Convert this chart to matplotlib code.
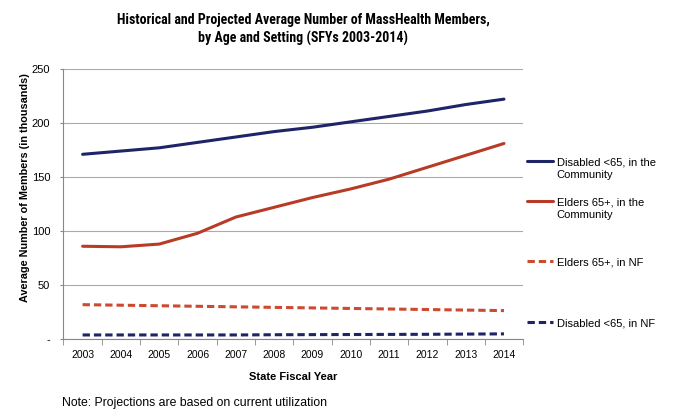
import matplotlib
matplotlib.use("Agg")
import matplotlib.pyplot as plt
import numpy as np

plt.rcParams['font.family'] = ['Liberation Sans', 'DejaVu Sans']

# data (thousands of members)
years = ['2003', '2004', '2005', '2006', '2007', '2008', '2009', '2010',
         '2011', '2012', '2013', '2014']
disabled_community = [171, 174, 177, 182, 187, 192, 196, 201, 206, 211, 217, 222]
elders_community = [86, 85.5, 88, 98, 113, 122, 131, 139, 148, 159, 170, 181]
elders_nf = [32, 31.5, 31, 30.5, 30, 29.5, 29, 28.5, 28, 27.5, 27, 26.5]
disabled_nf = [4, 4, 4, 4, 4, 4.2, 4.3, 4.4, 4.5, 4.6, 4.8, 5]

labels = ['Disabled <65, in the', 'Elders 65+, in the',
          'Elders 65+, in NF', 'Disabled <65, in NF']
label_second_line = ['Community', 'Community', '', '']

navy = '#1f2466'
red = '#b83b26'
red_dash = '#cc4a30'

fig = plt.figure(figsize=(6.75, 4.11), dpi=100)
ax = fig.add_axes([0.094, 0.1745, 0.681, 0.658])

x = np.arange(len(years))
l1, = ax.plot(x, disabled_community, color=navy, lw=2.2, solid_capstyle='round')
l2, = ax.plot(x, elders_community, color=red, lw=2.2, solid_capstyle='round')
l3, = ax.plot(x, elders_nf, color=red_dash, lw=2.2, ls=(0, (2.4, 1.3)))
l4, = ax.plot(x, disabled_nf, color=navy, lw=2.2, ls=(0, (2.4, 1.3)))

ax.set_xlim(-0.5, len(years) - 0.5)
ax.set_ylim(0, 250)
ax.set_yticks([0, 50, 100, 150, 200, 250])
ax.set_yticklabels(['-', '50', '100', '150', '200', '250'])
ax.set_xticks(x)
ax.set_xticklabels(years)
ax.set_xticks(np.arange(-0.5, len(years)), minor=True)
ax.tick_params(axis='x', which='major', length=0, pad=8, labelsize=7.5)
ax.tick_params(axis='x', which='minor', length=4, color='#888888')
ax.tick_params(axis='y', length=2.5, pad=7, color='#888888', labelsize=8)

ax.grid(axis='y', color='#aaaaaa', lw=0.8)
ax.set_axisbelow(True)
for s in ['top', 'right']:
    ax.spines[s].set_visible(False)
for s in ['left', 'bottom']:
    ax.spines[s].set_color('#888888')

ax.set_xlabel('State Fiscal Year', fontsize=8, fontweight='bold', labelpad=8)
ax.set_ylabel('Average Number of Members (in thousands)', fontsize=7.8,
              fontweight='bold')
ax.yaxis.set_label_coords(-0.073, 0.56)

fig.text(0.449, 0.968, 'Historical and Projected Average Number of MassHealth Members,\n'
         'by Age and Setting (SFYs 2003-2014)', ha='center', va='top',
         fontsize=10, fontweight='bold', linespacing=1.35,
         family=['Roboto Condensed', 'Liberation Sans Narrow', 'Liberation Sans'])

# one legend per entry so the uneven spacing can be matched;
# second text line sits under the first, handle stays on the first line
handles = [l1, l2, l3, l4]
legend_y = [0.605, 0.508, 0.3625, 0.214]
legends = []
for h, lab, yy in zip(handles, labels, legend_y):
    leg = fig.legend([h], [lab], loc='center left', bbox_to_anchor=(0.781, yy),
                     frameon=False, fontsize=8, handlelength=2.3,
                     handletextpad=0.35, borderpad=0, borderaxespad=0)
    legends.append(leg)

fig.canvas.draw()
inv = fig.transFigure.inverted()
for leg, extra in zip(legends, label_second_line):
    if not extra:
        continue
    bb = leg.get_texts()[0].get_window_extent()
    xc, yc = inv.transform((bb.x0, (bb.y0 + bb.y1) / 2 - 13))
    fig.text(xc, yc, extra, fontsize=8, va='center', ha='left')

fig.text(0.092, 0.012, 'Note: Projections are based on current utilization', fontsize=8.8)

fig.savefig('out.png', dpi=100)
